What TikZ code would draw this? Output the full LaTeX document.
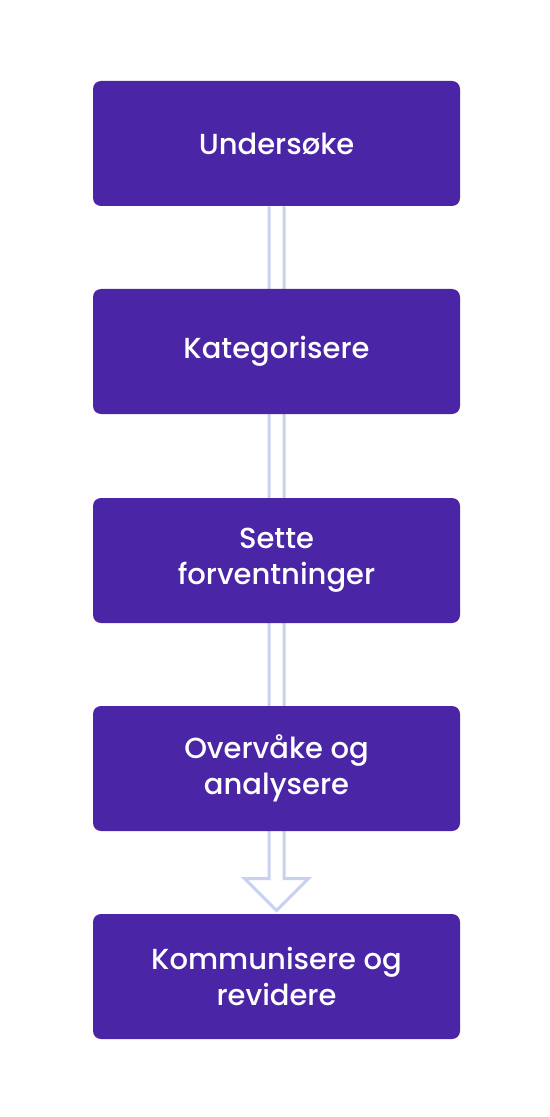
\documentclass[tikz,border=0pt]{standalone}
\usepackage{fontspec}
\setmainfont{Poppins}[UprightFont=* Medium]
\usetikzlibrary{calc,backgrounds}
\definecolor{boxpurple}{HTML}{4A25A6}
\definecolor{arrowblue}{HTML}{C9D1EE}
\tikzset{
  stepbox/.style={fill=boxpurple, rounded corners=4pt, minimum width=183.5pt,
    minimum height=62.5pt, text=white, align=center, font=\fontsize{14.5}{18}\selectfont},
  hollow/.style={draw=arrowblue, line width=1.5pt, line join=miter}
}
\begin{document}
\begin{tikzpicture}[x=0.5pt,y=-0.5pt]
\useasboundingbox (0,0) rectangle (550,1117);
\node[stepbox] (u) at (276.5,143.5) {Undersøke};
\node[stepbox] (k) at (276.5,351.5) {Kategorisere};
\node[stepbox] (s) at (276.5,560.5) {Sette\\forventninger};
\node[stepbox] (o) at (276.5,768.5) {Overvåke og\\analysere};
\node[stepbox] (r) at (276.5,976.5) {Kommunisere og\\revidere};
% hollow arrow behind the boxes
\begin{scope}[on background layer]
\fill[white] (0,0) rectangle (550,1117);
\draw[hollow] ($(u.south)+(-7.5,0)$) -- ($(r.north)+(-7.5,-35)$) -- ($(r.north)+(-32,-35)$)
  -- ($(r.north)+(0,-3)$) -- ($(r.north)+(32,-35)$) -- ($(r.north)+(7.5,-35)$)
  -- ($(u.south)+(7.5,0)$);
\end{scope}
\end{tikzpicture}
\end{document}
